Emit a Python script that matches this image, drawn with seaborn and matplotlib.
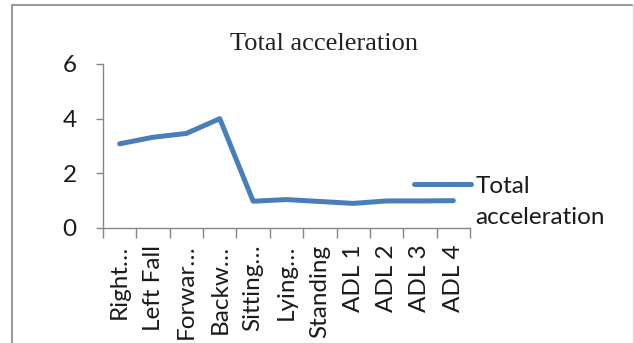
import matplotlib
matplotlib.use("Agg")
import matplotlib.pyplot as plt
from matplotlib.lines import Line2D
from matplotlib.ticker import FixedLocator
import seaborn as sns
import pandas as pd

categories = ["Right…", "Left Fall", "Forwar…", "Backw…", "Sitting…", "Lying…",
              "Standing", "ADL 1", "ADL 2", "ADL 3", "ADL 4"]
total_acceleration = [3.08, 3.32, 3.46, 4.0, 0.98, 1.04, 0.97, 0.90, 0.99, 0.99, 1.0]
y_ticks = [0, 2, 4, 6]
series_name = "Total acceleration"

sns.set_style("white")
plt.rcParams["font.family"] = ["Lato", "DejaVu Sans"]

df = pd.DataFrame({"Activity": categories, "value": total_acceleration})

W, H = 634, 343
fig = plt.figure(figsize=(W / 100, H / 100), dpi=100)
ax = fig.add_axes([103 / W, 1 - 228 / H, 367 / W, 164 / H])

blue = "#4A7EBB"
grey = "#868686"
text_col = "#1a1a1a"
lw = 3.6

sns.lineplot(data=df, x="Activity", y="value", ax=ax, sort=False,
             color=blue, linewidth=lw, legend=False)

ax.set_xlim(-0.5, len(categories) - 0.5)
ax.set_ylim(0, 6)
ax.set_yticks(y_ticks)
ax.set_xticks(range(len(categories)))
ax.set_xticklabels(categories, rotation=90, fontsize=17.5, color=text_col)
ax.xaxis.set_minor_locator(FixedLocator([i - 0.5 for i in range(len(categories) + 1)]))
ax.tick_params(axis="x", which="major", length=0, pad=12)
ax.tick_params(axis="x", which="minor", length=7, width=1, color=grey, direction="out", bottom=True)
ax.tick_params(axis="y", length=5, width=1, color=grey, direction="out", left=True,
               labelsize=17.5, labelcolor=text_col, pad=14)
ax.set_xlabel("")
ax.set_ylabel("")

for side in ["top", "right"]:
    ax.spines[side].set_visible(False)
for side in ["left", "bottom"]:
    ax.spines[side].set_color(grey)
    ax.spines[side].set_linewidth(1)

ax.set_title(series_name, family="Liberation Serif", fontsize=19, color="#222222",
             x=(324 - 103) / 367, y=1.0, pad=10)

# legend: handle beside the first word, second word wrapped below
handle = Line2D([], [], color=blue, linewidth=lw)
ax.legend([handle], ["Total"], loc="center left",
          bbox_to_anchor=(414 / W, 1 - 186 / H), bbox_transform=fig.transFigure,
          frameon=False, fontsize=17.5, handlelength=2.35, handletextpad=0.2,
          borderaxespad=0, borderpad=0, labelcolor=text_col)
fig.text(475 / W, 1 - 218 / H, "acceleration", fontsize=17.5, color=text_col,
         ha="left", va="center")

# outer frame
fig.add_artist(Line2D([12 / W, 12 / W], [0, 1 - 5 / H], color="#9a9a9a", linewidth=1.5,
                      transform=fig.transFigure))
fig.add_artist(Line2D([12 / W, 632 / W], [1 - 5 / H, 1 - 5 / H], color="#9a9a9a", linewidth=1.5,
                      transform=fig.transFigure))
fig.add_artist(Line2D([632.5 / W, 632.5 / W], [0, 1 - 5 / H], color="#d8d8d8", linewidth=1,
                      transform=fig.transFigure))

fig.savefig("out.png", dpi=100)
